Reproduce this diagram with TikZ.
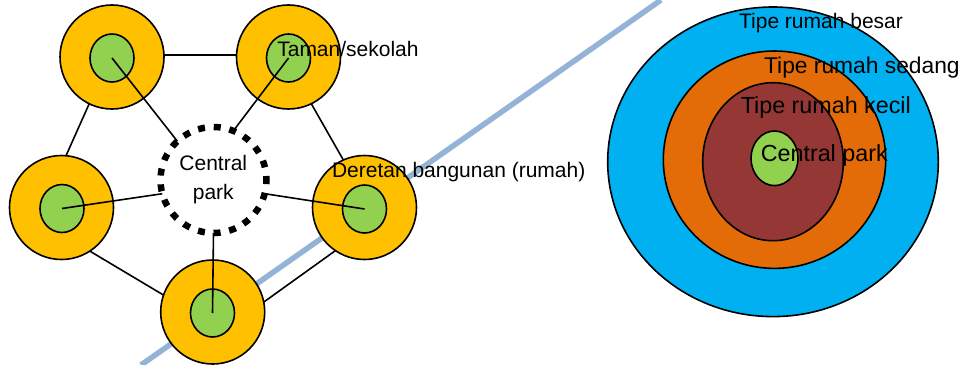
\documentclass[tikz,border=0pt]{standalone}
\usepackage{fontspec}
\setmainfont{Liberation Sans}
\usetikzlibrary{shapes.geometric}
\definecolor{ringY}{HTML}{FFC000}
\definecolor{parkG}{HTML}{92D050}
\definecolor{bigB}{HTML}{00B0F0}
\definecolor{midO}{HTML}{E36C09}
\definecolor{smallM}{HTML}{953735}
\definecolor{roadB}{HTML}{95B3D7}
\begin{document}
\begin{tikzpicture}[x=1pt,y=-1pt,line width=1.6pt,
  outerring/.style={circle,draw=black,fill=ringY,minimum size=104pt,inner sep=0pt,outer sep=0pt},
  innerdot/.style={ellipse,draw=black,fill=parkG,minimum width=44pt,minimum height=48pt,inner sep=0pt,outer sep=0pt},
  link/.style={draw=black,line width=1.6pt},
  lbl/.style={inner sep=0pt,anchor=base west,font=\fontsize{21}{25}\selectfont},
  biglbl/.style={inner sep=0pt,anchor=base west,font=\fontsize{23.3}{28}\selectfont},
  zone/.style={ellipse,draw=black,inner sep=0pt,outer sep=0pt}]
\useasboundingbox (0,0) rectangle (960,364);
% road
\coordinate (road1) at (141,365);
\coordinate (road2) at (661,0);
\draw[roadB,line width=5.5pt] (road1) -- (road2);
% outer rings
\node[outerring] (tlo) at (112,57) {};
\node[outerring] (tro) at (288.5,57) {};
\node[outerring] (lo) at (61.5,207.5) {};
\node[outerring] (ro) at (364.5,207.5) {};
\node[outerring] (bo) at (212.7,312) {};
% pentagon edges
\draw[link] (tlo.2) -- (tro.178);
\draw[link] (tlo.-116.6) -- (lo.85);
\draw[link] (tro.-64.8) -- (ro.114.2);
\draw[link] (lo.-57.3) -- (bo.161.6);
\draw[link] (ro.-124.9) -- (bo.11.7);
% inner parks
\node[innerdot] (tli) at (112,58) {};
\node[innerdot] (tri) at (288.5,58) {};
\node[innerdot] (li) at (62,208.5) {};
\node[innerdot] (ri) at (364.5,209) {};
\node[innerdot] (bi) at (212.5,313) {};
% central park
\node[circle,draw=black,fill=white,line width=6.5pt,dash pattern=on 7pt off 8.8pt,dash phase=3pt,minimum size=106pt,inner sep=0pt,outer sep=0pt] (cp) at (213.5,180) {};
\node[inner sep=0pt,anchor=base,font=\fontsize{21}{25}\selectfont] (cpt1) at (213.3,170) {Central};
\node[inner sep=0pt,anchor=base,font=\fontsize{21}{25}\selectfont] (cpt2) at (213.3,199.3) {park};
% spokes
\draw[link] (tli.center) -- (cp.133.4);
\draw[link] (tri.center) -- (cp.68);
\draw[link] (li.center) -- (cp.195.5);
\draw[link] (ri.center) -- (cp.-15.5);
\draw[link] (bi.center) -- (cp.-90);
% labels left
\node[lbl] (taman) at (276.5,56.7) {Taman/sekolah};
\node[lbl] (deretan) at (331.2,177.3) {Deretan bangunan (rumah)};
% right concentric zones
\node[zone,fill=bigB,minimum width=330.6pt,minimum height=309.6pt] (zb) at (773,161.8) {};
\node[zone,fill=midO,minimum width=222.4pt,minimum height=217.4pt] (zo) at (774.5,159.7) {};
\node[zone,fill=smallM,minimum width=140.6pt,minimum height=158pt] (zm) at (773,161.7) {};
\node[zone,fill=parkG,minimum width=47pt,minimum height=54.6pt] (zg) at (774.5,158.3) {};
\node[lbl] (tbesar) at (738.3,28.3) {Tipe rumah besar};
\node[biglbl,font=\fontsize{22.8}{28}\selectfont] (tsedang) at (763.3,73.3) {Tipe rumah sedang};
\node[biglbl] (tkecil) at (740,113.3) {Tipe rumah kecil};
\node[biglbl] (tcp) at (760,161) {Central park};
\end{tikzpicture}
\end{document}
